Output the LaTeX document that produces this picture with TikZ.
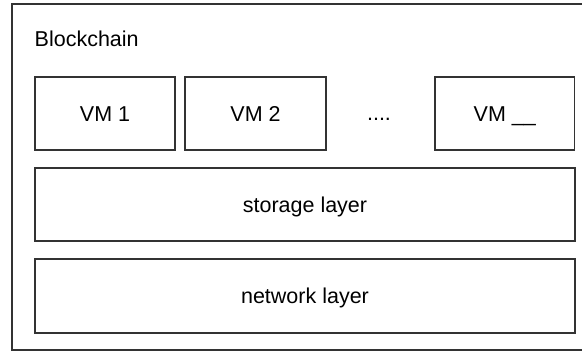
\documentclass[tikz,border=0pt]{standalone}
\usepackage{fontspec}
\setmainfont{Liberation Sans}
\begin{document}
\begin{tikzpicture}[x=1pt,y=-1pt,
  box/.style={draw=black!80, line width=1.2pt, fill=white, inner sep=0pt,
    font=\fontsize{21.5}{25}\selectfont, text height=15.4pt, text depth=0pt},
  label/.style={inner sep=0pt, font=\fontsize{21.5}{25}\selectfont}]
  \useasboundingbox (0,0) rectangle (582,351);
  \clip (0,0) rectangle (582,351);
  % outer container
  \node[draw=black!80, line width=1.2pt, minimum width=620pt, minimum height=346pt,
        inner sep=0pt] (chain) at (322,177) {};
  \node[label, anchor=base west] (title) at (34.5,46.7) {Blockchain};
  % virtual machines
  \node[box, minimum width=140pt, minimum height=73pt] (vm1) at (105,113.5) {VM 1};
  \node[box, minimum width=141pt, minimum height=73pt] (vm2) at (255.5,113.5) {VM 2};
  \node[label, anchor=base] (dots) at (379,120.7) {....};
  \node[box, minimum width=139.5pt, minimum height=73pt] (vmn) at (504.75,113.5) {VM \_\_};
  % layers
  \node[box, minimum width=540pt, minimum height=73pt] (storage) at (305,204.5) {storage layer};
  \node[box, minimum width=540pt, minimum height=74pt] (network) at (305,296) {network layer};
\end{tikzpicture}
\end{document}
